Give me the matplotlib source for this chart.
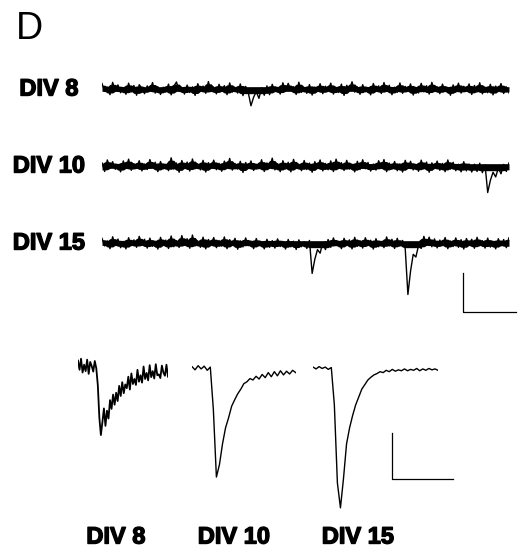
import numpy as np
import matplotlib
matplotlib.use('Agg')
import matplotlib.pyplot as plt
import matplotlib.patheffects as pe

plt.rcParams['font.family'] = ['Liberation Sans', 'DejaVu Sans']

# ---- data: spontaneous currents (pA), sampled every 0.05 s ----
top_dt = 0.05  # s
div8_trace = [
    2.8, -1.2, 1.0, -2.9, 3.4, -0.8, 2.1, -1.9, 0.6, -2.7, 3.0, -1.5, 1.8, -3.2,
    2.2, 0.4, -2.4, 1.6, -0.9, 3.3, -2.1, 1.2, -2.8, 0.9, -1.6, 2.5, -3.0, 1.4,
    3.6, -1.1, 0.8, -2.6, 2.0, -1.8, 1.1, -3.3, 2.7, -0.7, 1.5, -2.2, 3.8, -1.3,
    0.9, -2.5, 2.4, -1.0, 1.7, -2.9, 3.1, -1.6, 0.5, -2.1, 2.6, -3.4, 1.3, -1.9,
    -8.6, -4.2, -1.4, -4.8, 0.6, -3.2, 1.6, -2.9, 2.4, -1.4, 0.8, -2.6, 3.2, -1.1,
    2.9, -0.6, 1.2, -2.8, 3.5, -1.7, 0.7, -2.2, 2.3, -3.1, 1.0, -1.2, 2.7, -2.4,
    1.4, -0.9, 3.0, -2.6, 0.8, -1.8, 2.5, -3.3, 1.9, -0.5, 3.7, -1.6, 1.1, -2.7,
    2.2, -1.4, 0.6, -3.0, 2.8, -1.1, 1.6, -2.3, 3.3, -0.8, 1.9, -2.9, 0.9, -1.7,
    3.1, -2.2, 1.3, -1.0, 2.6, -3.1, 0.7, -2.0, 2.9, -1.5, 1.7, -2.6, 3.4, -0.9,
    1.2, -2.4, 2.5, -1.3, 0.8, -3.2, 2.1, -1.7, 3.0, -2.1, 1.4, -0.7, 2.6, -2.8,
    1.8, -1.5, 3.2, -2.5, 0.9, -1.9, 2.4, -3.0, 1.5, -1.2, 2.8, -2.3, 1.1, -2.0,
]
div10_trace = [
    1.6, -2.8, 3.1, -1.0, 2.2, -1.7, 0.8, -3.0, 2.6, -1.3, 3.5, -2.2, 1.2, -0.9,
    2.7, -2.5, 1.0, -1.8, 3.3, -0.7, 1.9, -2.9, 2.3, -1.5, 0.9, -2.4, 4.2, -1.6,
    1.5, -3.2, 2.8, -1.1, 2.0, -2.6, 3.6, -1.4, 1.1, -2.0, 2.9, -3.1, 1.7, -0.8,
    3.0, -1.9, 1.4, -2.7, 2.5, -0.9, 3.9, -2.1, 1.3, -1.6, 2.4, -3.3, 1.8, -1.2,
    2.6, -2.3, 0.9, -1.4, 3.2, -2.8, 1.6, -0.8, 4.0, -2.0, 1.2, -2.9, 2.7, -1.5,
    1.9, -3.0, 3.4, -1.2, 0.8, -2.4, 2.8, -1.8, 1.5, -3.2, 2.2, -1.0, 3.1, -2.5,
    1.3, -1.9, 2.6, -2.8, 3.5, -0.9, 1.7, -2.3, 2.9, -1.6, 0.9, -3.0, 2.4, -1.8,
    3.2, -1.4, 1.8, -2.6, 1.0, -2.1, 2.7, -1.1, 3.3, -2.9, 1.5, -1.7, 2.3, -2.4,
    1.1, -3.1, 2.9, -1.3, 2.4, -2.0, 0.8, -2.7, 3.0, -1.5, 2.0, -3.2, 1.6, -1.0,
    2.5, -2.2, 1.3, -2.9, 3.1, -1.6, 1.9, -2.4, 0.9, -3.0, 2.2, -2.5, 1.0, -3.1,
    0.9, -2.8, 1.4, -3.4, 0.6, -13.6, -7.4, -3.2, -5.6, -1.0, -4.0, 0.8, -2.8, 1.6,
]
div15_trace = [
    2.4, -1.5, 1.1, -2.9, 3.2, -1.0, 2.0, -2.4, 0.8, -3.0, 2.7, -1.3, 1.6, -2.2,
    3.4, -0.8, 1.9, -2.6, 2.5, -1.7, 0.9, -3.1, 2.9, -1.2, 1.5, -2.8, 3.6, -1.9,
    1.2, -2.3, 3.8, -1.1, 2.2, -2.7, 4.1, -1.5, 1.0, -2.2, 3.0, -3.0, 1.8, -0.9,
    2.8, -2.4, 1.3, -1.6, 3.1, -2.9, 1.7, -0.8, 2.4, -3.2, 1.1, -2.0, 2.6, -1.4,
    1.0, -2.9, 2.3, -1.5, 0.7, -3.0, 1.9, -2.2, 1.2, -2.6, 2.1, -1.8, 0.8, -3.1,
    1.8, -2.0, 0.9, -3.3, 1.6, -1.9, 0.6, -2.8, 1.3, -15.6, -8.4, -3.4, -5.2, 0.2,
    -3.4, 1.8, -2.2, 2.6, -1.4, 0.9, -2.9, 2.4, -1.1, 1.6, -3.0, 2.9, -1.7, 1.2,
    -2.6, 2.7, -1.2, 1.4, -3.1, 2.2, -1.9, 0.8, -2.4, 3.1, -1.5, 1.9, -2.8, 2.4,
    -1.6, 1.3, -3.0, -26.4, -14.4, -5.8, -7.2, -1.2, -2.8, 3.4, -0.9, 3.0, -1.9, 2.1,
    -2.5, 1.5, -1.3, 2.8, -2.9, 1.0, -1.8, 2.6, -2.2, 1.7, -3.1, 2.3, -1.0, 1.9,
    -2.7, 2.9, -1.4, 1.2, -2.6, 2.5, -2.1, 0.9, -3.0, 2.2, -1.5, 1.8, -2.4, 2.7,
]

# ---- data: averaged events (pA) ----
avg8_dt = 0.5   # ms
avg8 = [1.4, -0.6, 1.8, -1.2, 0.5, -0.9, 1.6, -1.5, 1.1, 0.2, -1.0, 1.3, -0.3,
        -4.0, -11.0, -14.8, -12.0, -9.0, -12.8, -9.5, -11.2, -7.2, -9.1, -6.0,
        -8.2, -5.6, -7.4, -4.1, -6.3, -3.3, -5.7, -3.8, -4.6, -2.1, -4.9, -1.4,
        -3.7, -2.6, -3.9, -0.6, -3.2, -1.8, -3.4, 0.1, -2.6, -1.3, -2.9, 0.4,
        -2.2, -0.9, -2.5, 0.6, -1.8, -1.6, -2.4, 0.3, -1.2, -1.9, 0.5, -2.1]
avg10_dt = 1.0
avg10 = [0.3, -0.4, 0.5, -0.2, 0.4, -0.5, 0.2,
         -9.0, -23.7, -21.0, -16.5, -13.0, -10.8, -8.3, -6.9, -5.6, -4.6, -3.4,
         -3.0, -2.3, -2.6, -1.8, -2.4, -1.4, -2.1, -1.0, -1.9, -0.8, -1.7, -0.6,
         -1.5, -0.7, -1.3, -0.5, -1.0]
avg15_dt = 1.0
avg15 = [0.2, -0.2, 0.3, -0.1, 0.2, -0.3, 0.1,
         -8.0, -25.0, -30.4, -24.0, -16.5, -13.0, -10.3, -8.0, -6.3, -4.6, -3.6,
         -2.6, -2.0, -1.5, -1.2, -0.8, -1.0, -0.5, -0.8, -0.3, -0.7, -0.4, -0.6,
         -0.2, -0.6, -0.3, -0.5, -0.1, -0.6, -0.2, -0.5, -0.1, -0.4, -0.2, -0.5]

labels = ['DIV 8', 'DIV 10', 'DIV 15']
top_bar = (1.0, 20.0)     # s, pA
bottom_bar = (20.0, 10.0)  # ms, pA

W, H = 523, 560
fig = plt.figure(figsize=(W / 100, H / 100), dpi=100)
bold = [pe.withStroke(linewidth=1.0, foreground='black')]


def trace_axes(x0, t_len, px_per_t, baseline, px_per_pa, above=30, below=90):
    x1 = x0 + t_len * px_per_t
    ax = fig.add_axes([x0 / W, 1 - (baseline + below) / H,
                       (x1 - x0) / W, (above + below) / H])
    ax.set_xlim(0, t_len)
    ax.set_ylim(-below / px_per_pa, above / px_per_pa)
    ax.axis('off')
    return ax


# top: continuous recordings (dense trace drawn as its noise band + line)
top_px_t = 53.2   # px per s
top_px_pa = 1.95  # px per pA
top_base = [89, 166, 243]
for trace, lab, yb in zip([div8_trace, div10_trace, div15_trace], labels, top_base):
    v = np.asarray(trace)
    t = np.arange(len(v)) * top_dt
    padded = np.pad(v, 1, mode='edge')
    upper = np.maximum(np.maximum(padded[:-2], padded[2:]), v)
    lower = np.minimum(np.minimum(padded[:-2], padded[2:]), v)
    band_hi = np.clip(0.7 * upper, 1.2, None)
    band_lo = np.clip(0.7 * lower, -2.4, -1.2)
    ax = trace_axes(102, t[-1], top_px_t, yb, top_px_pa)
    ax.fill_between(t, band_lo, band_hi, color='black', lw=0)
    ax.plot(t, v, color='black', lw=1.0)
    fig.text(49 / W, 1 - yb / H, lab, ha='center', va='center',
             fontsize=17, fontweight='bold', path_effects=bold)

# scale bar for top traces
bx, by = 6.79, -15.4
ax.plot([bx, bx, bx + top_bar[0]], [by, by - top_bar[1], by - top_bar[1]],
        color='black', lw=0.9, clip_on=False)

# bottom: averaged events
bot_px_t = 3.05
bot_px_pa = 4.6
bot_x0 = [78, 192, 313]
bot_base = [367, 368, 368]
bot_center = [116, 234, 358]
bot_lw = [1.3, 1.0, 1.0]
for trace, dt, lab, x0, yb, xc, lw in zip([avg8, avg10, avg15], [avg8_dt, avg10_dt, avg15_dt],
                                           labels, bot_x0, bot_base, bot_center, bot_lw):
    t = np.arange(len(trace)) * dt
    ax = trace_axes(x0, t[-1], bot_px_t, yb, bot_px_pa, above=20, below=150)
    ax.plot(t, trace, color='black', lw=lw)
    fig.text(xc / W, 1 - 537 / H, lab, ha='center', va='center',
             fontsize=17, fontweight='bold', path_effects=bold)

# scale bar for averaged events
bx, by = 25.9, -14.1
ax.plot([bx, bx, bx + bottom_bar[0]], [by, by - bottom_bar[1], by - bottom_bar[1]],
        color='black', lw=0.9, clip_on=False)

fig.text(16 / W, 1 - 29 / H, 'D', ha='left', va='center', fontsize=27)

fig.savefig('out.png', dpi=100, facecolor='white')
